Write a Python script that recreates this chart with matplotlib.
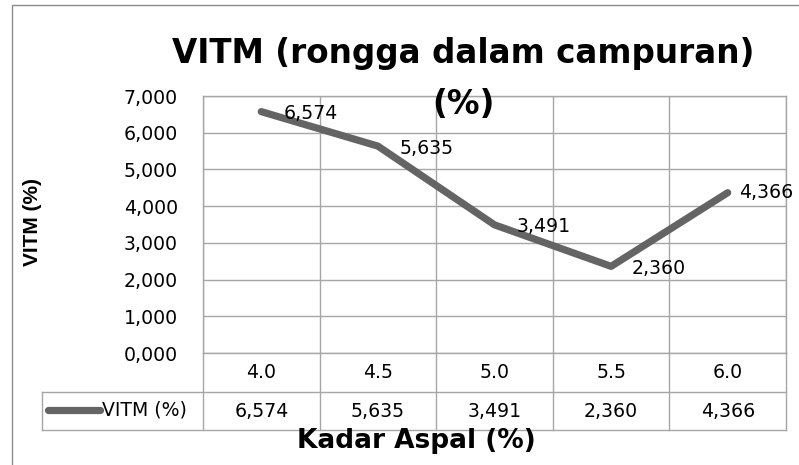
import matplotlib
matplotlib.use("Agg")
import matplotlib.pyplot as plt
from matplotlib.lines import Line2D
from matplotlib.patches import Rectangle

categories = ["4.0", "4.5", "5.0", "5.5", "6.0"]
vitm = [6.574, 5.635, 3.491, 2.360, 4.366]
series_name = "VITM (%)"
yticks = [0, 1, 2, 3, 4, 5, 6, 7]
title_line1 = "VITM (rongga dalam campuran)"
title_line2 = "(%)"
xlabel = "Kadar Aspal (%)"
ylabel = "VITM (%)"

def fmt(v):
    return f"{v:.3f}".replace(".", ",")

W, H = 799, 465
fig = plt.figure(figsize=(W / 100, H / 100), dpi=100)
fig.patch.set_facecolor("white")

def fx(px):
    return px / W

def fy(py):
    return 1 - py / H

L, R, T, B = 203, 786, 96, 353
ax = fig.add_axes([fx(L), fy(B), fx(R) - fx(L), fy(T) - fy(B)])
grid_c = "#a6a6a6"
line_c = "#646464"
body_font = "DejaVu Sans"
fs = 13.6

x = list(range(len(categories)))
ax.plot(x, vitm, color=line_c, lw=5.2, solid_capstyle="round", solid_joinstyle="round", zorder=3)
ax.set_xlim(-0.5, len(categories) - 0.5)
ax.set_ylim(0, 7)
ax.set_yticks(yticks)
ax.set_yticklabels([fmt(t) for t in yticks], fontfamily=body_font, fontsize=fs)
ax.set_xticks([i + 0.5 for i in range(-1, len(categories))])
ax.set_xticklabels([])
ax.tick_params(axis="both", length=0)
ax.tick_params(axis="y", pad=18)
ax.grid(True, color=grid_c, lw=1)
for s in ax.spines.values():
    s.set_color(grid_c)
    s.set_linewidth(1)

# data labels
offsets = [(22, -2), (22, -2), (22, -2), (21, -2), (11, 0)]
for xi, v, (dx, dy) in zip(x, vitm, offsets):
    ax.annotate(fmt(v), (xi, v), xytext=(dx * 0.72, dy * 0.72), textcoords="offset points",
                ha="left", va="center", fontfamily=body_font, fontsize=fs, zorder=4)

# title
fig.text(fx(463), fy(54), title_line1, ha="center", va="center",
         fontfamily="DejaVu Sans", fontweight="bold", fontsize=23.5)
fig.text(fx(463), fy(104), title_line2, ha="center", va="center",
         fontfamily="DejaVu Sans", fontweight="bold", fontsize=23.5, zorder=5)

# data table
tl, tr = 42, R
r1t, r1b, r2b = B, 392, 430
tlines = [
    ((tl, tr), (r1b, r1b)),
    ((tl, tr), (r2b, r2b)),
    ((tl, tl), (r1b, r2b)),
]
col_edges = [L + (R - L) * i / len(categories) for i in range(len(categories) + 1)]
for ce in col_edges:
    tlines.append(((ce, ce), (r1t, r2b)))
for (xs, ys) in tlines:
    fig.add_artist(Line2D([fx(xs[0]), fx(xs[1])], [fy(ys[0]), fy(ys[1])],
                          transform=fig.transFigure, color=grid_c, lw=1))
for i, (c, v) in enumerate(zip(categories, vitm)):
    cx = (col_edges[i] + col_edges[i + 1]) / 2
    fig.text(fx(cx), fy((r1t + r1b) / 2), c, ha="center", va="center",
             fontfamily=body_font, fontsize=fs)
    fig.text(fx(cx), fy((r1b + r2b) / 2), fmt(v), ha="center", va="center",
             fontfamily=body_font, fontsize=fs)
# legend key
fig.add_artist(Line2D([fx(48), fx(100)], [fy(410), fy(410)], transform=fig.transFigure,
                      color=line_c, lw=5.2, solid_capstyle="round"))
fig.text(fx(102), fy(410), series_name, ha="left", va="center",
         fontfamily=body_font, fontsize=fs)

# axis titles
fig.text(fx(416), fy(441), xlabel, ha="center", va="center",
         fontfamily="DejaVu Sans", fontweight="bold", fontsize=19)
fig.text(fx(32), fy(222), ylabel, ha="center", va="center", rotation=90,
         fontfamily="Liberation Sans", fontweight="bold", fontsize=15)

# chart border
fig.add_artist(Rectangle((fx(12), fy(H + 10)), fx(W + 20), fy(5) - fy(H + 10),
                         transform=fig.transFigure, fill=False, ec="#8c8c8c", lw=1))

fig.savefig("out.png", dpi=100)
